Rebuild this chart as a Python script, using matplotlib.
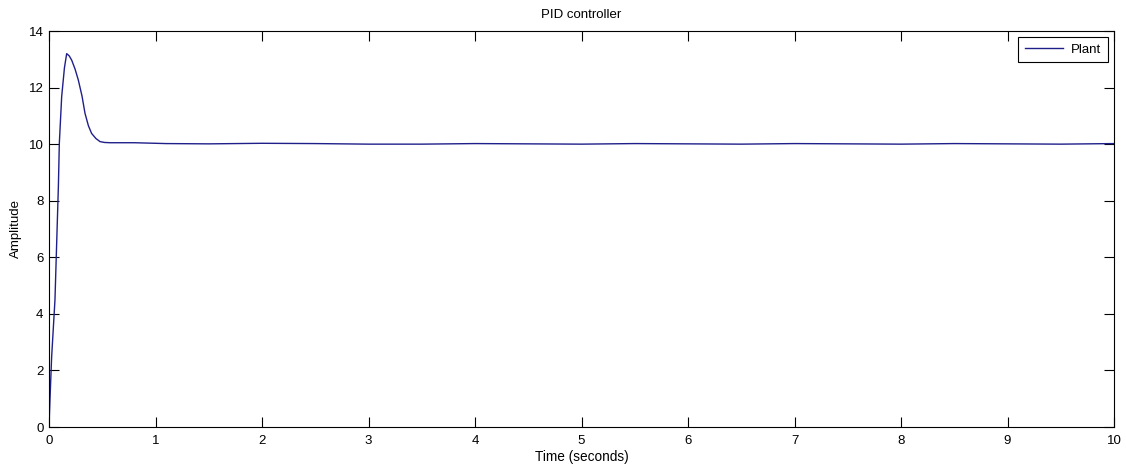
import matplotlib.pyplot as plt
import numpy as np

plt.rcParams['font.family'] = ['Liberation Sans', 'DejaVu Sans']

# step response
t = [0.0, 0.003, 0.009, 0.025, 0.056, 0.088, 0.097, 0.119, 0.145, 0.166,
     0.19, 0.213, 0.245, 0.275, 0.31, 0.338, 0.37, 0.40, 0.44, 0.479,
     0.52, 0.573, 0.8, 1.1, 1.5, 2.0, 2.5, 3.0, 3.5, 4.0, 4.5, 5.0,
     5.5, 6.0, 6.5, 7.0, 7.5, 8.0, 8.5, 9.0, 9.5, 10.0]
y = [0.0, 0.3, 0.95, 2.49, 4.49, 8.5, 10.03, 11.68, 12.7, 13.2,
     13.12, 12.97, 12.65, 12.27, 11.7, 11.09, 10.65, 10.38, 10.2, 10.09,
     10.06, 10.05, 10.05, 10.02, 10.01, 10.03, 10.02, 10.0, 10.0, 10.02,
     10.01, 10.0, 10.02, 10.01, 10.0, 10.02, 10.01, 10.0, 10.02, 10.01, 10.0, 10.02]

xticks = list(range(0, 11))
yticks = list(range(0, 15, 2))

fig = plt.figure(figsize=(11.26, 4.69), dpi=100)
ax = fig.add_axes([49 / 1126, 1 - 427 / 469, (1114 - 49) / 1126, (427 - 31) / 469])

ax.plot(t, y, color='#1f1f8a', lw=1.0, label='Plant')

ax.set_xlim(0, 10)
ax.set_ylim(0, 14)
ax.set_xticks(xticks)
ax.set_yticks(yticks)
ax.tick_params(direction='in', length=7, width=0.8, top=True, right=True,
               labelsize=9.5)
ax.tick_params(axis='x', pad=6)
ax.tick_params(axis='y', pad=4)
for s in ax.spines.values():
    s.set_linewidth(0.8)

ax.set_title('PID controller', fontsize=9.5, pad=9)
ax.set_xlabel('Time (seconds)', fontsize=9.8, labelpad=2)
ax.set_ylabel('Amplitude', fontsize=9.5, labelpad=5)

leg = ax.legend(loc='upper right', fontsize=9.5, fancybox=False, framealpha=1,
                edgecolor='black', handlelength=2.9, handletextpad=0.6,
                borderpad=0.5, borderaxespad=0.45)
leg.get_frame().set_linewidth(0.8)

fig.savefig('out.png', dpi=100)
